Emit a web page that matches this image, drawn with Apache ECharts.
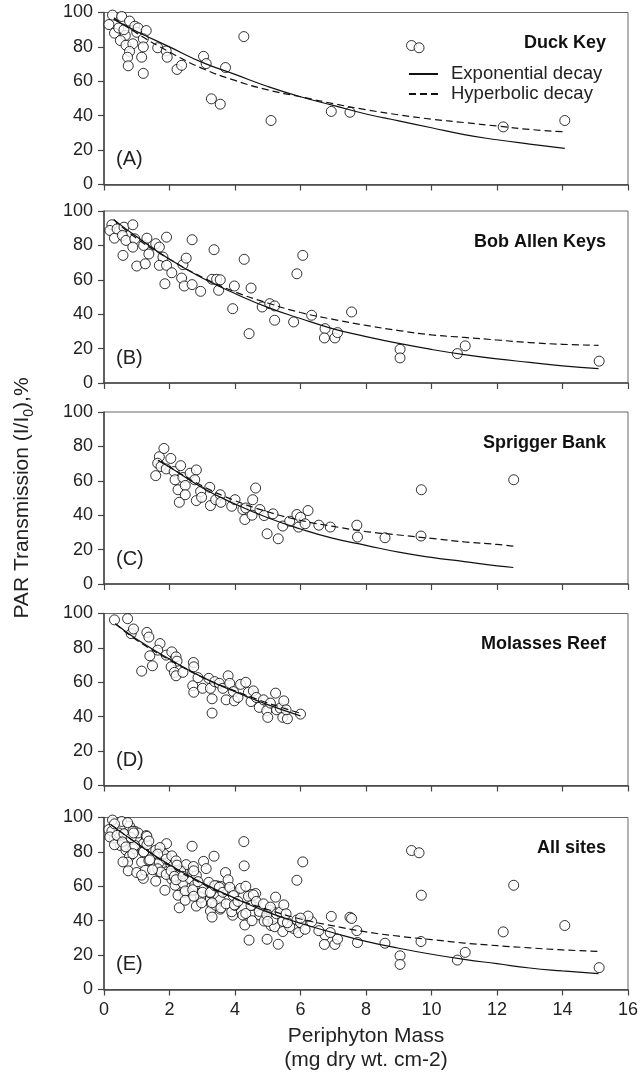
<!DOCTYPE html>
<html>
<head>
<meta charset="utf-8">
<script src="https://cdn.jsdelivr.net/npm/echarts@6/dist/echarts.min.js"></script>
<style>
  html, body { margin: 0; padding: 0; background: #fff; }
  #chart { width: 641px; height: 1074px; }
</style>
</head>
<body>
<div id="chart"></div>
<script>
// panel names and letters
var siteNames = ['Duck Key', 'Bob Allen Keys', 'Sprigger Bank', 'Molasses Reef', 'All sites'];
var panelLetters = ['(A)', '(B)', '(C)', '(D)', '(E)'];
var xTicks = [0, 2, 4, 6, 8, 10, 12, 14, 16];
var yTicks = [0, 20, 40, 60, 80, 100];

// observed points [mass, transmission %]
var duckKeyPts = [[0.26,98.5],[0.15,93],[0.54,97.7],[0.78,95],[0.94,92],[0.32,88],[0.45,91],[0.65,86.6],[0.61,90],[1.0,88.5],
  [1.04,91],[1.29,89.5],[0.5,83.7],[0.67,81],[0.88,81.8],[1.2,84.7],[1.2,80],[0.78,77.4],[0.72,74],[1.15,74],
  [0.74,69],[1.2,64.6],[1.64,79.5],[1.9,77.6],[1.93,74],[2.23,66.9],[2.37,69.3],[3.04,74.5],[3.12,70.3],[3.71,68],
  [4.27,86],[3.28,49.8],[3.55,46.7],[5.1,37.2],[6.94,42.5],[7.51,42],[9.39,80.8],[9.62,79.5],[12.19,33.5],[14.07,37.2]];

var bobAllenPts = [[0.24,92],[0.18,88.7],[0.32,84.2],[0.4,89.6],[0.61,90.6],[0.88,92],[0.56,85.8],[0.67,82.9],[0.94,83.8],[0.88,79],
  [0.58,74.2],[1.0,68],[1.21,80],[1.31,84.2],[1.26,69.3],[1.37,75],[1.58,81],[1.69,79],[1.8,73.2],[1.91,84.8],
  [1.69,68.4],[1.91,68.4],[2.07,64.1],[1.86,57.7],[2.41,68.8],[2.51,72.6],[2.37,61],[2.45,56.4],[2.69,57.2],[2.69,83.3],
  [2.95,53.3],[3.36,77.5],[3.3,60.3],[3.44,60.3],[3.55,60],[3.5,53.9],[3.98,56.4],[3.93,43.2],[4.49,55.2],[4.43,28.7],
  [4.28,71.9],[4.83,44.2],[5.06,46.1],[5.21,44.8],[5.21,36.5],[5.79,35.5],[5.89,63.5],[6.07,74.2],[6.34,39.4],[7.56,41.3],
  [6.75,31.6],[6.73,26.2],[7.05,26.2],[7.13,29.3],[9.04,19.6],[9.04,14.6],[10.79,17.1],[11.03,21.6],[15.12,12.7]];

var spriggerPts = [[1.69,74],[1.83,78.8],[1.58,63],[1.64,70.2],[1.74,68.3],[1.9,66.9],[2.04,73],[2.14,65.4],[2.34,68.8],[2.17,60.6],
  [2.26,54.8],[2.41,61.9],[2.48,57.3],[2.3,47.5],[2.48,51.9],[2.63,64.4],[2.82,66.3],[2.77,60.6],[2.82,48.5],[2.95,53.8],
  [2.98,50.4],[3.23,56.2],[3.25,45.6],[3.41,49],[3.55,51.9],[3.57,47.5],[3.9,45.2],[4.0,49],[4.24,43.3],[4.3,37.5],
  [4.33,44.2],[4.54,49],[4.63,55.8],[4.52,40],[4.76,43.3],[4.89,39.8],[4.98,29.2],[5.16,40.8],[5.32,26.3],[5.46,33.7],
  [5.67,36.5],[5.89,40.4],[5.94,33.1],[6.0,38.8],[6.14,35],[6.23,42.7],[6.56,34.2],[6.91,33.1],[7.72,34.2],[7.74,27.3],
  [8.58,26.9],[9.68,27.9],[9.69,54.8],[12.51,60.6]];

var molassesPts = [[0.32,96.3],[0.72,97],[0.83,88.3],[0.9,91],[1.31,89],[1.37,86.3],[1.71,82.5],[1.64,78.7],[1.4,75.4],[1.48,69.6],
  [1.15,66.5],[1.9,75.8],[2.07,77.7],[2.2,74.8],[2.23,72.3],[2.05,69],[2.15,65.8],[2.2,63.8],[2.41,65.8],[2.73,71.5],
  [2.74,69],[2.71,58],[2.74,54.2],[2.87,62.7],[3.01,56.5],[3.2,62.3],[3.25,56.5],[3.3,50.4],[3.3,42.1],[3.38,60.4],
  [3.52,59.4],[3.63,56.5],[3.79,63.8],[3.84,59.4],[3.73,49.8],[3.95,54.6],[3.98,49.2],[4.09,51.2],[4.17,58.8],[4.33,60],
  [4.41,54.2],[4.49,48.8],[4.56,55],[4.65,51.2],[4.74,45.4],[4.87,49.8],[4.97,43.5],[5.0,39.6],[5.08,47.9],[5.24,53.7],
  [5.27,44],[5.38,45],[5.49,49.2],[5.46,39.6],[5.6,38.8],[5.56,44],[6.0,41.5]];

// fitted curves
var duckKeyExp = [[0.3,96],[1,89],[2,80],[3,71],[4,64],[5,57],[6,51],[7,46],[8,41],[9,37],[10,33],[11,29],[12,26],[13,23.5],[14.07,21]];
var duckKeyHyp = [[0.3,97],[1,88],[2,77],[3,67.5],[4,60.5],[5,55],[6,51],[7,47],[8,43.5],[9,40.5],[10,38],[11,36],[12,34],[13,32],[14,30.7]];
var bobAllenExp = [[0.3,95],[1,85],[2,72],[3,61],[4,52],[5,44],[6,37.5],[7,31.5],[8,27],[9,23],[10,19.5],[11,16.5],[12,14],[13,12],[14,10],[15.1,8.4]];
var bobAllenHyp = [[0.3,95],[1,84],[2,72],[3,61.5],[4,53],[5,46.5],[6,41],[7,37],[8,33.5],[9,30.5],[10,28],[11,26.5],[12,25],[13,23.5],[14,22.5],[15.1,21.9]];
var spriggerExp = [[1.65,72],[2,68],[3,56],[4,46.5],[5,38.5],[6,32],[7,26.5],[8,22.5],[9,18.5],[10,15.5],[11,13],[12,10.5],[12.5,9.6]];
var spriggerHyp = [[1.65,72],[2,68],[3,57],[4,48.5],[5,42],[6,37],[7,33.5],[8,30.5],[9,28.5],[10,26.5],[11,24.5],[12,23],[12.5,22]];
var molassesExp = [[0.35,94],[1,85],[2,73.5],[3,63],[4,54.5],[5,47],[6,40.5]];
var molassesHyp = [[0.35,94],[1,84.5],[2,73],[3,63],[4,55],[5,48],[6,42]];
var allExp = [[0.2,96],[1,85],[2,72.5],[3,62],[4,53],[5,45],[6,38.5],[7,33],[8,28],[9,24],[10,20.5],[11,17.5],[12,15],[13,12.5],[14,10.8],[15.1,9.2]];
var allHyp = [[0.2,96],[1,85],[2,72],[3,61.5],[4,53],[5,46.5],[6,41],[7,37],[8,33.5],[9,31],[10,29],[11,27],[12,25.5],[13,24.2],[14,23],[15.1,22.2]];

var allPts = duckKeyPts.concat(bobAllenPts, spriggerPts, molassesPts);
var panelPts = [duckKeyPts, bobAllenPts, spriggerPts, molassesPts, allPts];
var panelExp = [duckKeyExp, bobAllenExp, spriggerExp, molassesExp, allExp];
var panelHyp = [duckKeyHyp, bobAllenHyp, spriggerHyp, molassesHyp, allHyp];

var font = '"Liberation Sans", Arial, Helvetica, sans-serif';
var tops = [12.5, 211, 412, 613.5, 817.5];
var gridH = 172;

var grids = [], xAxes = [], yAxes = [], series = [], titles = [];

tops.forEach(function (t, i) {
  var last = i === tops.length - 1;
  grids.push({ left: 104, right: 13, top: t, height: gridH, show: true, borderColor: '#666', borderWidth: 1 });
  xAxes.push({
    gridIndex: i, type: 'value', min: xTicks[0], max: xTicks[xTicks.length - 1], interval: 2,
    axisLine: { lineStyle: { color: '#444', width: 1.5 } },
    axisTick: { length: 6, lineStyle: { color: '#444', width: 1.2 } },
    splitLine: { show: false },
    axisLabel: { show: last, fontSize: 18, color: '#222', fontFamily: font, margin: 12 },
    name: last ? '{a|Periphyton Mass}\n{a|(mg dry wt. cm-2)}' : '',
    nameLocation: 'middle', nameGap: 35,
    nameTextStyle: { rich: { a: { fontSize: 21, lineHeight: 24, color: '#222', fontFamily: font } } }
  });
  yAxes.push({
    gridIndex: i, type: 'value', min: yTicks[0], max: yTicks[yTicks.length - 1], interval: 20,
    axisLine: { lineStyle: { color: '#444', width: 1.5 } },
    axisTick: { length: 6, lineStyle: { color: '#444', width: 1.2 } },
    splitLine: { show: false },
    axisLabel: { fontSize: 18, color: '#222', fontFamily: font, margin: 11 },
    name: i === 2 ? '{a|PAR Transmission (I/I}{s|0}{a|),%}' : '',
    nameLocation: 'middle', nameGap: 68, nameRotate: 90,
    nameTextStyle: {
      rich: {
        a: { fontSize: 21, lineHeight: 28, verticalAlign: 'middle', color: '#222', fontFamily: font },
        s: { fontSize: 14, lineHeight: 14, verticalAlign: 'bottom', color: '#222', fontFamily: font }
      }
    }
  });
  series.push({
    type: 'scatter', xAxisIndex: i, yAxisIndex: i, data: panelPts[i],
    symbol: 'circle', symbolSize: 10, z: 2,
    itemStyle: { color: '#fff', borderColor: '#000', borderWidth: 1 }
  });
  series.push({
    name: 'Exponential decay', type: 'line', xAxisIndex: i, yAxisIndex: i, data: panelExp[i],
    symbol: 'none', smooth: true, z: 3, color: '#111',
    lineStyle: { color: '#111', width: 1.2, type: 'solid' }
  });
  series.push({
    name: 'Hyperbolic decay', type: 'line', xAxisIndex: i, yAxisIndex: i, data: panelHyp[i],
    symbol: 'none', smooth: true, z: 3, color: '#111',
    lineStyle: { color: '#111', width: 1.2, type: [7, 4] }
  });
  titles.push({
    text: siteNames[i], right: 30, top: t + 17,
    textStyle: { fontSize: 18, fontWeight: 'bold', color: '#111', fontFamily: font }
  });
  titles.push({
    text: panelLetters[i], left: 111, top: t + 132,
    textStyle: { fontSize: 20, fontWeight: 'normal', color: '#222', fontFamily: font }
  });
});

var chart = echarts.init(document.getElementById('chart'));
chart.setOption({
  animation: false,
  backgroundColor: '#fff',
  title: titles,
  legend: {
    data: ['Exponential decay', 'Hyperbolic decay'],
    orient: 'vertical', left: 403, top: 59,
    itemWidth: 29, itemHeight: 12, itemGap: 0, selectedMode: false,
    itemStyle: { opacity: 0 },
    textStyle: { fontSize: 18.5, lineHeight: 20, color: '#222', fontFamily: font, padding: [0, 0, 0, 8] }
  },
  grid: grids,
  xAxis: xAxes,
  yAxis: yAxes,
  series: series
});
</script>
</body>
</html>
